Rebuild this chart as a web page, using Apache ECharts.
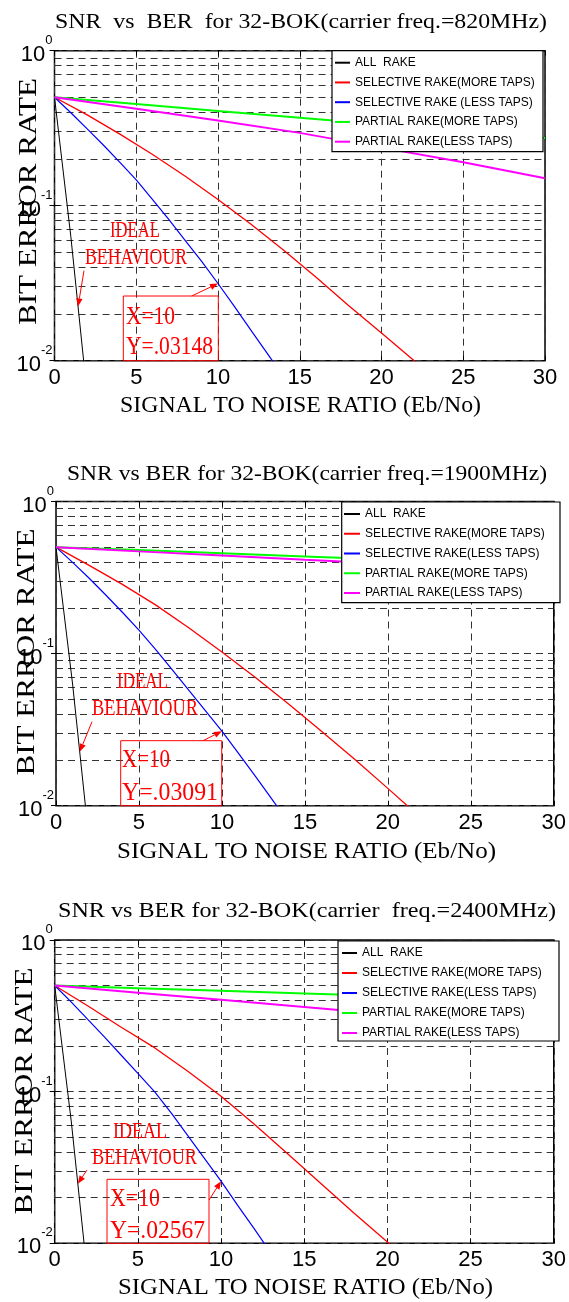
<!DOCTYPE html>
<html><head><meta charset="utf-8">
<script src="https://cdn.jsdelivr.net/npm/echarts@6/dist/echarts.min.js"></script>
<style>html,body{margin:0;padding:0;background:#fff}#c{width:569px;height:1302px}</style>
</head><body><div id="c"></div>
<script>
// ---------------- DATA ----------------
const snrAll  = [0, 1, 2];
const snrUnit = [0, 1, 2, 3, 4, 5, 6, 7, 8, 9, 10, 11, 12, 13, 14];
const snrEven = [0, 2, 4, 6, 8, 10, 12, 14, 16, 18, 20, 22, 24];
const snrFive = [0, 5, 10, 15, 20, 25, 30];

const titles = [
  'SNR  vs  BER  for 32-BOK(carrier freq.=820MHz)',
  'SNR vs BER for 32-BOK(carrier freq.=1900MHz)',
  'SNR vs BER for 32-BOK(carrier  freq.=2400MHz)'
];
const xName = 'SIGNAL TO NOISE RATIO (Eb/No)';
const yName = 'BIT ERROR RATE';
const names820 = ['ALL  RAKE', 'SELECTIVE RAKE(MORE TAPS)', 'SELECTIVE RAKE (LESS TAPS)', 'PARTIAL RAKE(MORE TAPS)', 'PARTIAL RAKE(LESS TAPS)'];
const namesHigh = ['ALL  RAKE', 'SELECTIVE RAKE(MORE TAPS)', 'SELECTIVE RAKE(LESS TAPS)', 'PARTIAL RAKE(MORE TAPS)', 'PARTIAL RAKE(LESS TAPS)'];
const colors = ['#000000', '#ff0000', '#0000ff', '#00ff00', '#ff00ff'];
const minorGrid = [0.02, 0.03, 0.04, 0.05, 0.06, 0.07, 0.08, 0.09, 0.2, 0.3, 0.4, 0.5, 0.6, 0.7, 0.8, 0.9];

// 820 MHz
const allRake820 = [0.501, 0.0631, 0.0060];
const selMore820 = [0.501, 0.3855, 0.2897, 0.2138, 0.1549, 0.1096, 0.0762, 0.0518, 0.0345, 0.0226, 0.0151, 0.0100, 0.0063];
const selLess820 = [0.501, 0.398, 0.313, 0.2455, 0.1905, 0.1466, 0.1096, 0.0813, 0.0596, 0.0437, 0.03148, 0.0224, 0.0158, 0.0112, 0.0079];
const parMore820 = [0.501, 0.453, 0.409, 0.370, 0.334, 0.302, 0.273];
const parLess820 = [0.501, 0.422, 0.355, 0.295, 0.237, 0.1905, 0.1503];
// 1900 MHz
const allRake1900 = [0.501, 0.0631, 0.0058];
const selMore1900 = [0.501, 0.380, 0.285, 0.209, 0.148, 0.1023, 0.0700, 0.0468, 0.0309, 0.0202, 0.0130, 0.0083];
const selLess1900 = [0.501, 0.398, 0.313, 0.2427, 0.1871, 0.1426, 0.1067, 0.0785, 0.0575, 0.0422, 0.03091, 0.0221, 0.0157, 0.0111, 0.0078];
const parMore1900 = [0.501, 0.479, 0.456, 0.435, 0.415, 0.395, 0.378];
const parLess1900 = [0.501, 0.470, 0.442, 0.414, 0.389, 0.365, 0.343];
// 2400 MHz
const allRake2400 = [0.501, 0.0631, 0.0057];
const selMore2400 = [0.501, 0.367, 0.266, 0.195, 0.1365, 0.0933, 0.0610, 0.0389, 0.0248, 0.0158, 0.0102, 0.0066];
const selLess2400 = [0.501, 0.389, 0.2985, 0.229, 0.1738, 0.1318, 0.100, 0.0724, 0.0513, 0.0363, 0.02567, 0.0178, 0.01245, 0.0086];
const parMore2400 = [0.501, 0.481, 0.462, 0.444, 0.427, 0.410, 0.394];
const parLess2400 = [0.501, 0.449, 0.403, 0.361, 0.324, 0.290, 0.260];

const markX = [10, 10, 10];
const markY = [0.03148, 0.03091, 0.02567];
const markText = ['Y=.03148', 'Y=.03091', 'Y=.02567'];

const panels = [
  { names: names820, series: [[snrAll, allRake820], [snrEven, selMore820], [snrUnit, selLess820], [snrFive, parMore820], [snrFive, parLess820]] },
  { names: namesHigh, series: [[snrAll, allRake1900], [snrEven, selMore1900], [snrUnit, selLess1900], [snrFive, parMore1900], [snrFive, parLess1900]] },
  { names: namesHigh, series: [[snrAll, allRake2400], [snrEven, selMore2400], [snrUnit, selLess2400], [snrFive, parMore2400], [snrFive, parLess2400]] }
];

// ---------------- LAYOUT ----------------
const layout = [
  { grid: {left: 54.5, top: 50.7, width: 490.5, height: 310},
    legend: {left: 332, top: 50.7, padding: [5, 2, 3, 3], itemWidth: 15, itemGap: 5.75, textW: 186},
    title: {cx: 301, cy: 22, w: 492}, xn: {cx: 300.5, cy: 406, w: 361}, yn: {cx: 29, cy: 201.5, w: 247},
    ideal: {cx: 135, cy: 231, w: 50}, behav: {cx: 136, cy: 258, w: 102}, idealArrow: {x1: 84, y1: 270.7, tx: 1.44},
    box: {x: 123.3, y: 296, w: 95, h: 64.7}, xt: {x: 126, cy: 317, w: 49}, yt: {x: 126, cy: 347.5, w: 87}, markArrow: {x1: 191.7, y1: 296} },
  { grid: {left: 56, top: 501.5, width: 504, height: 304.2},
    legend: {left: 341.7, top: 502, padding: [5, 2, 2.7, 2.3], itemWidth: 16, itemGap: 5.75, textW: 193},
    title: {cx: 307, cy: 474, w: 480}, xn: {cx: 306.5, cy: 851.6, w: 379}, yn: {cx: 27, cy: 652, w: 247},
    ideal: {cx: 142.5, cy: 682, w: 51}, behav: {cx: 145, cy: 708.5, w: 106}, idealArrow: {x1: 92, y1: 721.7, tx: 1.43},
    box: {x: 120.7, y: 740.7, w: 101, h: 65}, xt: {x: 122, cy: 760, w: 48}, yt: {x: 122, cy: 793, w: 96}, markArrow: {x1: 203, y1: 740.7} },
  { grid: {left: 54.7, top: 940, width: 504.3, height: 303.3},
    legend: {left: 338, top: 941, padding: [5, 2, 1, 4], itemWidth: 15, itemGap: 6, textW: 195},
    title: {cx: 307, cy: 911, w: 498}, xn: {cx: 305.5, cy: 1287.5, w: 375}, yn: {cx: 25, cy: 1091, w: 247},
    ideal: {cx: 140, cy: 1131.5, w: 54}, behav: {cx: 144.5, cy: 1157.5, w: 105}, idealArrow: {x1: 87, y1: 1170, tx: 1.39},
    box: {x: 107, y: 1179.3, w: 102, h: 64}, xt: {x: 110, cy: 1199, w: 50}, yt: {x: 110, cy: 1231, w: 95}, markArrow: {x1: 209, y1: 1200} }
];

const tickFont = '"Liberation Sans Narrow", "Liberation Sans", Arial, sans-serif';
const serif = '"Liberation Serif", "Times New Roman", serif';
const sans = '"Liberation Sans", Arial, sans-serif';
const RED = '#ff0000';
const dash = {type: [7, 5], color: '#333333', width: 1};

// ---------------- OPTION ----------------
const chart = echarts.init(document.getElementById('c'), null, {renderer: 'canvas'});
const option = {animation: false, backgroundColor: '#ffffff', grid: [], xAxis: [], yAxis: [], legend: [], series: []};
const widths = [1, 1.3, 1.2, 2, 2];

panels.forEach((p, i) => {
  const L = layout[i];
  option.grid.push(Object.assign({show: true, borderColor: '#000', borderWidth: 1.5, backgroundColor: 'transparent', containLabel: false}, L.grid));
  const tick = {show: true, inside: true, length: 5, lineStyle: {color: '#000', width: 1}};
  option.xAxis.push({gridIndex: i, type: 'value', min: 0, max: 30, interval: 5, position: 'bottom',
    axisLine: {show: false}, axisTick: tick,
    axisLabel: {margin: 6, fontSize: 22, color: '#000', fontFamily: tickFont, interval: 0},
    splitLine: {show: true, lineStyle: dash}});
  option.xAxis.push({gridIndex: i, type: 'value', min: 0, max: 30, interval: 5, position: 'top',
    axisLine: {show: false}, axisTick: tick, axisLabel: {show: false}, splitLine: {show: false}});
  option.yAxis.push({gridIndex: i, type: 'log', logBase: 10, min: 0.01, max: 1, position: 'left',
    axisLine: {show: false}, axisTick: tick,
    axisLabel: {margin: 2, padding: [22, 0, 0, 0], formatter: v => '{b|10}{s|' + Math.round(Math.log10(v)) + '}',
      rich: {
        b: {fontSize: 22, fontFamily: tickFont, color: '#000', lineHeight: 22, padding: [0, 0, 7, 0], verticalAlign: 'bottom'},
        s: {fontSize: 13, fontFamily: tickFont, color: '#000', lineHeight: 12, padding: [0, 0, 26, 0], verticalAlign: 'bottom'}
      }},
    splitLine: {show: true, lineStyle: dash}});
  option.yAxis.push({gridIndex: i, type: 'log', logBase: 10, min: 0.01, max: 1, position: 'right',
    axisLine: {show: false}, axisTick: tick, axisLabel: {show: false}, splitLine: {show: false}});

  // minor log grid lines
  option.series.push({type: 'line', xAxisIndex: 2 * i, yAxisIndex: 2 * i, data: [[0, 1]], symbol: 'none',
    lineStyle: {opacity: 0}, silent: true, z: 1,
    markLine: {silent: true, symbol: ['none', 'none'], label: {show: false}, lineStyle: dash, z: 1,
      animation: false, emphasis: {disabled: true}, data: minorGrid.map(v => ({yAxis: v}))}});

  p.series.forEach((s, k) => {
    option.series.push({type: 'line', name: p.names[k], xAxisIndex: 2 * i, yAxisIndex: 2 * i,
      data: s[0].map((x, j) => [x, s[1][j]]), showSymbol: false, symbol: 'none', z: 3,
      color: colors[k], lineStyle: {color: colors[k], width: widths[k]}, clip: true, silent: true});
  });

  option.legend.push({orient: 'vertical', left: L.legend.left, top: L.legend.top, padding: L.legend.padding,
    itemWidth: L.legend.itemWidth, itemHeight: 2, itemGap: L.legend.itemGap, icon: 'rect',
    backgroundColor: '#ffffff', borderColor: '#000', borderWidth: 1.2, borderRadius: 0, z: 20,
    selectedMode: false, data: p.names.map(n => ({name: n, icon: 'rect'})),
    textStyle: {fontSize: 12, fontFamily: sans, color: '#000', lineHeight: 14, width: L.legend.textW, overflow: 'none'}});
});

chart.setOption(option);

// ---------------- ANNOTATIONS (text, boxes, arrows) ----------------
const mctx = document.createElement('canvas').getContext('2d');
function measure(t, size, fam) { mctx.font = size + 'px ' + fam; return mctx.measureText(t).width; }
function fitText(t, x, y, w, size, fam, color, align, rot) {
  return {type: 'text', x: x, y: y, rotation: rot || 0, scaleX: w / measure(t, size, fam), z: 100, silent: true,
    style: {text: t, fontSize: size, fontFamily: fam, fill: color, textAlign: align || 'center', textVerticalAlign: 'middle'}};
}
function arrow(x1, y1, x2, y2) {
  const a = Math.atan2(y2 - y1, x2 - x1), c = Math.cos(a), s = Math.sin(a), HL = 8, HW = 3.2;
  const bx = x2 - HL * c, by = y2 - HL * s;
  return [
    {type: 'line', z: 100, silent: true, shape: {x1: x1, y1: y1, x2: bx, y2: by}, style: {stroke: RED, lineWidth: 1}},
    {type: 'polygon', z: 100, silent: true, shape: {points: [[x2, y2], [bx - HW * s, by + HW * c], [bx + HW * s, by - HW * c]]}, style: {fill: RED}}
  ];
}
function valueOn(xs, ys, xv) {
  for (let j = 0; j < xs.length - 1; j++) {
    if (xv >= xs[j] && xv <= xs[j + 1]) {
      const t = (xv - xs[j]) / (xs[j + 1] - xs[j]);
      return Math.pow(10, Math.log10(ys[j]) + t * (Math.log10(ys[j + 1]) - Math.log10(ys[j])));
    }
  }
  return ys[ys.length - 1];
}

const g = [];
panels.forEach((p, i) => {
  const L = layout[i];
  const finder = {xAxisIndex: 2 * i, yAxisIndex: 2 * i};
  g.push(fitText(titles[i], L.title.cx, L.title.cy, L.title.w, 22, serif, '#000'));
  g.push(fitText(xName, L.xn.cx, L.xn.cy, L.xn.w, 23, serif, '#000'));
  g.push(fitText(yName, L.yn.cx, L.yn.cy, L.yn.w, 26, serif, '#000', 'center', Math.PI / 2));
  g.push(fitText('IDEAL', L.ideal.cx, L.ideal.cy, L.ideal.w, 24, serif, RED));
  g.push(fitText('BEHAVIOUR', L.behav.cx, L.behav.cy, L.behav.w, 24, serif, RED));
  const blk = p.series[0];
  const tip = chart.convertToPixel(finder, [L.idealArrow.tx, valueOn(blk[0], blk[1], L.idealArrow.tx)]);
  arrow(L.idealArrow.x1, L.idealArrow.y1, tip[0], tip[1]).forEach(e => g.push(e));
  g.push({type: 'rect', z: 100, silent: true, shape: {x: L.box.x, y: L.box.y, width: L.box.w, height: L.box.h},
    style: {fill: 'none', stroke: RED, lineWidth: 1}});
  g.push(fitText('X=10', L.xt.x, L.xt.cy, L.xt.w, 26, serif, RED, 'left'));
  g.push(fitText(markText[i], L.yt.x, L.yt.cy, L.yt.w, 26, serif, RED, 'left'));
  const mp = chart.convertToPixel(finder, [markX[i], markY[i]]);
  arrow(L.markArrow.x1, L.markArrow.y1, mp[0], mp[1]).forEach(e => g.push(e));
});
chart.setOption({graphic: {elements: g}});
</script>
</body></html>
